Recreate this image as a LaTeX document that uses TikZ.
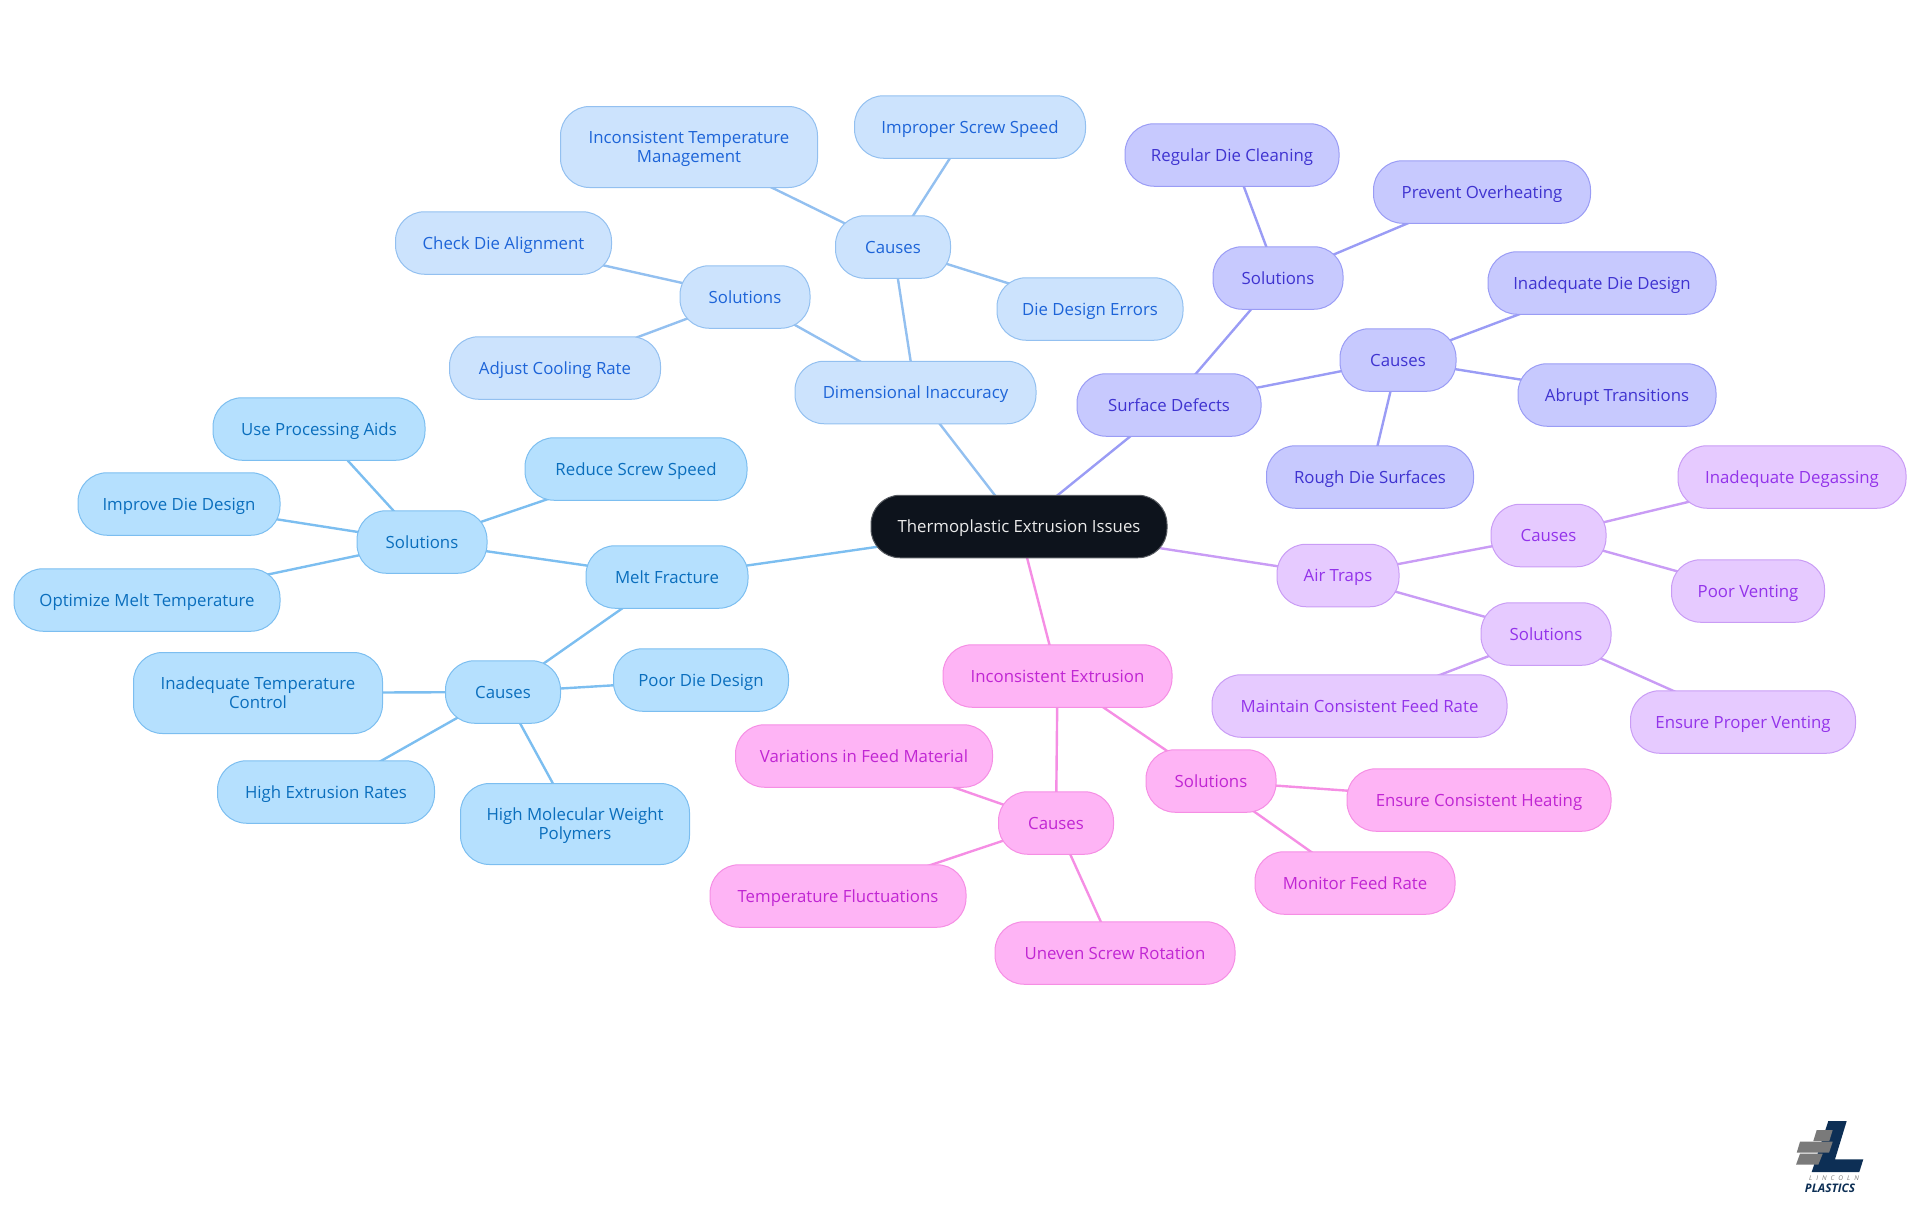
\documentclass[tikz,border=0pt]{standalone}
\usepackage{fontspec}
\setmainfont{Open Sans}
\usepackage{xcolor}
\definecolor{rootfill}{HTML}{0D131C}
\definecolor{meltfill}{HTML}{B5E0FE}
\definecolor{meltline}{HTML}{7CBEF0}
\definecolor{melttext}{HTML}{0A6EBD}
\definecolor{dimfill}{HTML}{CCE3FD}
\definecolor{dimline}{HTML}{93C0F0}
\definecolor{dimtext}{HTML}{1D64D8}
\definecolor{surffill}{HTML}{C7C9FE}
\definecolor{surfline}{HTML}{9A9CF5}
\definecolor{surftext}{HTML}{3F33D0}
\definecolor{airfill}{HTML}{E6CAFF}
\definecolor{airline}{HTML}{C99CF5}
\definecolor{airtext}{HTML}{9333EA}
\definecolor{pinkfill}{HTML}{FEB4F5}
\definecolor{pinkline}{HTML}{F58EE4}
\definecolor{pinktext}{HTML}{C026D3}
\definecolor{logoblue}{HTML}{0D2F55}
\definecolor{logogray}{HTML}{7A7A7A}
\usepackage{tikz}
\usetikzlibrary{backgrounds}

\begin{document}
\begin{tikzpicture}[
  x=1pt, y=-1pt,
  box/.style={draw, line width=1pt, rounded corners=29pt, minimum height=62.5pt,
              inner sep=0pt, align=center, text height=15.5pt, text depth=3.5pt,
              font=\fontsize{16.8}{19}\selectfont},
  twoline/.style={minimum height=81pt, text height=34.5pt},
  meltbox/.style={box, fill=meltfill, draw=meltline, text=melttext},
  dimbox/.style={box, fill=dimfill, draw=dimline, text=dimtext},
  surfbox/.style={box, fill=surffill, draw=surfline, text=surftext},
  airbox/.style={box, fill=airfill, draw=airline, text=airtext},
  pinkbox/.style={box, fill=pinkfill, draw=pinkline, text=pinktext},
  link/.style={line width=2.4pt}
]
  \useasboundingbox (0,0) rectangle (1920,1215);

  % Centre
  \node[box, fill=rootfill, draw=rootfill!70!white, text=white!92!black, minimum width=296pt] (root) at (1019,526.5) {Thermoplastic Extrusion Issues};

  % Melt Fracture
  \node[meltbox, minimum width=162pt] (melt) at (667,577) {Melt Fracture};
  \node[meltbox, minimum width=130pt] (meltsol) at (422,542) {Solutions};
  \node[meltbox, minimum width=115pt] (meltcau) at (503,692) {Causes};
  \node[meltbox, minimum width=212pt] (aids) at (319,429) {Use Processing Aids};
  \node[meltbox, minimum width=202pt] (improve) at (179,504) {Improve Die Design};
  \node[meltbox, minimum width=266pt] (optimize) at (147,600) {Optimize Melt Temperature};
  \node[meltbox, minimum width=222pt] (reduce) at (636,469) {Reduce Screw Speed};
  \node[meltbox, twoline, minimum width=249pt] (tempctl) at (258,693) {Inadequate Temperature\\Control};
  \node[meltbox, minimum width=175pt] (poordie) at (701,680) {Poor Die Design};
  \node[meltbox, minimum width=217pt] (rates) at (326,792) {High Extrusion Rates};
  \node[meltbox, twoline, minimum width=229pt] (polymers) at (575,824) {High Molecular Weight\\Polymers};

  % Dimensional Inaccuracy
  \node[dimbox, minimum width=241pt] (dim) at (915.5,392.5) {Dimensional Inaccuracy};
  \node[dimbox, minimum width=130pt] (dimsol) at (745,297) {Solutions};
  \node[dimbox, minimum width=115pt] (dimcau) at (893,247) {Causes};
  \node[dimbox, minimum width=216pt] (align) at (503.5,243) {Check Die Alignment};
  \node[dimbox, minimum width=211pt] (cooling) at (555,368) {Adjust Cooling Rate};
  \node[dimbox, twoline, minimum width=257pt] (tempmgt) at (689,147) {Inconsistent Temperature\\Management};
  \node[dimbox, minimum width=231pt] (improper) at (970,127) {Improper Screw Speed};
  \node[dimbox, minimum width=186pt] (dieerr) at (1090,309) {Die Design Errors};

  % Surface Defects
  \node[surfbox, minimum width=184pt] (surf) at (1169,405) {Surface Defects};
  \node[surfbox, minimum width=130pt] (surfsol) at (1278,278) {Solutions};
  \node[surfbox, minimum width=116pt] (surfcau) at (1398,360) {Causes};
  \node[surfbox, minimum width=214pt] (cleaning) at (1232,155) {Regular Die Cleaning};
  \node[surfbox, minimum width=217pt] (overheat) at (1482,192) {Prevent Overheating};
  \node[surfbox, minimum width=228pt] (diedesign) at (1602,283) {Inadequate Die Design};
  \node[surfbox, minimum width=198pt] (abrupt) at (1617,395) {Abrupt Transitions};
  \node[surfbox, minimum width=207pt] (rough) at (1370,477) {Rough Die Surfaces};

  % Air Traps
  \node[airbox, minimum width=122pt] (air) at (1338,575.5) {Air Traps};
  \node[airbox, minimum width=115pt] (aircau) at (1548.5,535.5) {Causes};
  \node[airbox, minimum width=130pt] (airsol) at (1546,634) {Solutions};
  \node[airbox, minimum width=228pt] (degas) at (1792,477) {Inadequate Degassing};
  \node[airbox, minimum width=153pt] (venting) at (1748,591) {Poor Venting};
  \node[airbox, minimum width=295pt] (feedrate) at (1359.5,706) {Maintain Consistent Feed Rate};
  \node[airbox, minimum width=225pt] (proper) at (1743,722) {Ensure Proper Venting};

  % Inconsistent Extrusion
  \node[pinkbox, minimum width=229pt] (incons) at (1057.5,676) {Inconsistent Extrusion};
  \node[pinkbox, minimum width=115pt] (pinkcau) at (1056,823) {Causes};
  \node[pinkbox, minimum width=130pt] (pinksol) at (1211,781) {Solutions};
  \node[pinkbox, minimum width=257pt] (material) at (864,756) {Variations in Feed Material};
  \node[pinkbox, minimum width=256pt] (fluct) at (838,896) {Temperature Fluctuations};
  \node[pinkbox, minimum width=240pt] (uneven) at (1115,953) {Uneven Screw Rotation};
  \node[pinkbox, minimum width=264pt] (heating) at (1479,800) {Ensure Consistent Heating};
  \node[pinkbox, minimum width=200pt] (monitor) at (1355,883) {Monitor Feed Rate};

  % Links
  \begin{scope}[on background layer]
    \foreach \i/\j in {root/melt, melt/meltsol, melt/meltcau, meltsol/aids, meltsol/improve, meltsol/optimize, meltsol/reduce, meltcau/tempctl, meltcau/poordie, meltcau/rates, meltcau/polymers} {
      \draw[link, color=meltline] (\i.center) -- (\j.center);
    }
    \foreach \i/\j in {root/dim, dim/dimsol, dim/dimcau, dimsol/align, dimsol/cooling, dimcau/tempmgt, dimcau/improper, dimcau/dieerr} {
      \draw[link, color=dimline] (\i.center) -- (\j.center);
    }
    \foreach \i/\j in {root/surf, surf/surfsol, surf/surfcau, surfsol/cleaning, surfsol/overheat, surfcau/diedesign, surfcau/abrupt, surfcau/rough} {
      \draw[link, color=surfline] (\i.center) -- (\j.center);
    }
    \foreach \i/\j in {root/air, air/aircau, air/airsol, aircau/degas, aircau/venting, airsol/feedrate, airsol/proper} {
      \draw[link, color=airline] (\i.center) -- (\j.center);
    }
    \foreach \i/\j in {root/incons, incons/pinkcau, incons/pinksol, pinkcau/material, pinkcau/fluct, pinkcau/uneven, pinksol/heating, pinksol/monitor} {
      \draw[link, color=pinkline] (\i.center) -- (\j.center);
    }
  \end{scope}

  % Logo
  \fill[logoblue] (1828.3,1121) -- (1846.7,1121) -- (1835,1159.3) -- (1863.3,1159.3) -- (1859.3,1172) -- (1811.7,1172) -- cycle;
  \fill[logogray] (1816.7,1130) -- (1832.7,1130) -- (1829.3,1141) -- (1813.3,1141) -- cycle;
  \fill[logogray] (1800,1141.7) -- (1832.7,1141.7) -- (1829,1152.7) -- (1796.7,1152.7) -- cycle;
  \fill[logogray] (1800,1153.7) -- (1822.7,1153.7) -- (1818.3,1164.7) -- (1796,1164.7) -- cycle;
  \node[inner sep=0pt, text=logogray, font=\fontsize{6.5}{6.5}\selectfont\itshape] (lincoln) at (1834,1178.5) {L\hspace{4pt}I\hspace{4pt}N\hspace{4pt}C\hspace{4pt}O\hspace{4pt}L\hspace{4pt}N};
  \node[inner sep=0pt, text=logoblue, font=\fontsize{11.8}{11.8}\selectfont\bfseries\itshape] (plastics) at (1830,1188.5) {PLASTICS};
\end{tikzpicture}
\end{document}
